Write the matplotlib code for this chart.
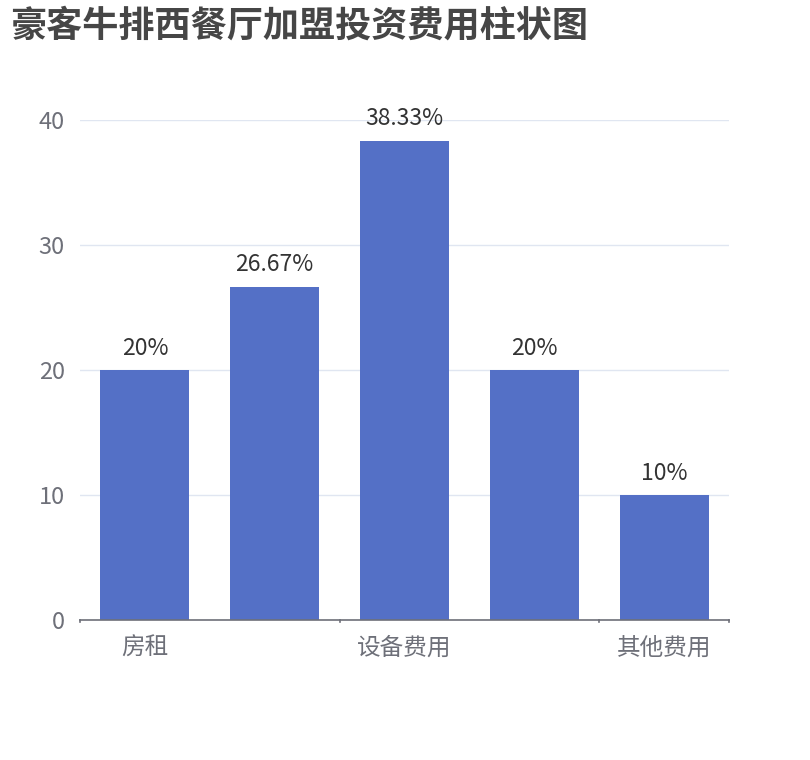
import matplotlib
matplotlib.use("Agg")
import matplotlib.pyplot as plt
import numpy as np

plt.rcParams['font.family'] = ['Noto Sans CJK SC', 'DejaVu Sans']

# chart data
title = "豪客牛排西餐厅加盟投资费用柱状图"
categories = ["房租", "装修费用", "设备费用", "加盟费用", "其他费用"]
values = [20, 26.67, 38.33, 20, 10]
value_labels = ["20%", "26.67%", "38.33%", "20%", "10%"]
y_ticks = [0, 10, 20, 30, 40]

BAR_COLOR = "#5470c6"
AXIS_COLOR = "#6e7079"
GRID_COLOR = "#e0e6f1"

fig = plt.figure(figsize=(8.1, 7.6), dpi=100)
ax = fig.add_axes([80 / 810, 1 - 620 / 760, 649 / 810, 500 / 760])

x = np.arange(len(categories))
ax.bar(x, values, width=0.685, color=BAR_COLOR, zorder=3)
for xi, v, lab in zip(x, values, value_labels):
    ax.annotate(lab, (xi, v), xytext=(0, 7.5), textcoords="offset points",
                ha="center", va="bottom", fontsize=16.5, color="#333333")

ax.set_xlim(-0.5, len(categories) - 0.5)
ax.set_ylim(0, 40)
ax.set_yticks(y_ticks)
ax.set_yticklabels([str(t) for t in y_ticks], fontsize=17, color=AXIS_COLOR)
ax.tick_params(axis="y", length=0, pad=11)
ax.grid(axis="y", color=GRID_COLOR, linewidth=1, zorder=0)

# only every other category label is shown
ax.set_xticks(x[::2])
ax.set_xticklabels(categories[::2], fontsize=17, color=AXIS_COLOR)
ax.tick_params(axis="x", length=0, pad=12)
for b in [-0.5, 1.5, 3.5, 4.5]:
    ax.plot([b, b], [0, -0.13], color=AXIS_COLOR, linewidth=1.2,
            clip_on=False, transform=ax.transData, zorder=4)

for s in ["top", "right", "left"]:
    ax.spines[s].set_visible(False)
ax.spines["bottom"].set_color(AXIS_COLOR)
ax.spines["bottom"].set_linewidth(1.2)
ax.spines["bottom"].set_zorder(4)

fig.text(10 / 810, 1 - 26 / 760, title, fontsize=26, fontweight="bold",
         color="#464646", ha="left", va="center")

fig.savefig("out.png", dpi=100)
